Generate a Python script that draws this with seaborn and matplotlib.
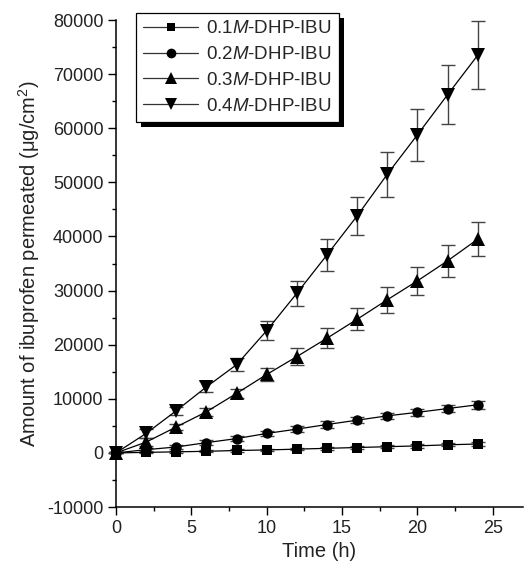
import numpy as np
import pandas as pd
import matplotlib
matplotlib.use("Agg")
import matplotlib.pyplot as plt
import seaborn as sns
from matplotlib.lines import Line2D
from matplotlib.patches import Rectangle

# ---- data ----
time_h = [0, 2, 4, 6, 8, 10, 12, 14, 16, 18, 20, 22, 24]
labels = ["0.1$\\mathit{M}$-DHP-IBU", "0.2$\\mathit{M}$-DHP-IBU",
          "0.3$\\mathit{M}$-DHP-IBU", "0.4$\\mathit{M}$-DHP-IBU"]
m01 = [0, 100, 200, 300, 450, 550, 700, 850, 1000, 1150, 1300, 1500, 1650]
e01 = [100, 150, 150, 200, 200, 200, 250, 250, 250, 300, 300, 300, 300]
m02 = [0, 600, 1100, 1900, 2650, 3600, 4400, 5250, 6050, 6850, 7500, 8200, 8900]
e02 = [100, 300, 400, 400, 500, 500, 500, 600, 600, 600, 600, 700, 700]
m03 = [0, 2000, 4800, 7600, 11000, 14500, 17800, 21200, 24700, 28300, 31800, 35500, 39500]
e03 = [100, 700, 600, 700, 900, 1200, 1500, 1800, 2000, 2400, 2600, 3000, 3200]
m04 = [0, 3600, 7800, 12200, 16300, 22600, 29500, 36600, 43800, 51500, 58800, 66200, 73500]
e04 = [100, 800, 700, 1000, 1200, 1700, 2300, 3000, 3500, 4200, 4800, 5500, 6300]
means = [m01, m02, m03, m04]
errs = [e01, e02, e03, e04]
markers = ["s", "o", "^", "v"]
msizes = [6.5, 7.5, 9.5, 9.5]

sns.set_style("ticks")
plt.rcParams['font.family'] = ['Liberation Sans', 'DejaVu Sans']
plt.rcParams['mathtext.fontset'] = 'custom'
plt.rcParams['mathtext.rm'] = 'Liberation Sans'
plt.rcParams['mathtext.it'] = 'Liberation Sans:italic'
plt.rcParams['axes.unicode_minus'] = False

df = pd.DataFrame({
    "time": np.tile(time_h, 4),
    "amount": np.concatenate(means),
    "series": np.repeat(labels, len(time_h)),
})

fig = plt.figure(figsize=(5.32, 5.64), dpi=100)
ax = fig.add_axes([0.218, 0.101, 0.765, 0.8635])

sns.lineplot(data=df, x="time", y="amount", hue="series", style="series",
             markers=dict(zip(labels, markers)), dashes=False,
             palette=["black"] * 4, linewidth=0.9, markeredgewidth=0,
             ax=ax, legend=False, zorder=3, clip_on=False)
for ln, ms in zip(ax.get_lines()[-4:], msizes):
    ln.set_markersize(ms)

for i in range(4):
    ax.errorbar(time_h, means[i], yerr=errs[i], fmt="none", ecolor="#444444",
                elinewidth=1.0, capsize=5, capthick=1.0, zorder=2, clip_on=False)

ax.set_xlim(0, 27)
ax.set_ylim(-10000, 80000)
ax.set_xticks([0, 5, 10, 15, 20, 25])
ax.set_xticks(np.arange(0, 27, 2.5), minor=True)
ax.set_yticks(np.arange(-10000, 80001, 10000))
ax.set_yticks(np.arange(-10000, 80001, 5000), minor=True)
ax.tick_params(axis="both", which="major", direction="out", length=5.5, width=1.0,
               labelsize=13, color="black", labelcolor="#222222")
ax.tick_params(axis="both", which="minor", direction="out", length=3, width=1.0, color="black")
for s in ["top", "right"]:
    ax.spines[s].set_visible(False)
for s in ["left", "bottom"]:
    ax.spines[s].set_linewidth(1.1)
    ax.spines[s].set_color("black")

ax.set_xlabel("Time (h)", fontsize=14.5, color="#222222", labelpad=4)
ax.set_ylabel("Amount of ibuprofen permeated (μg/cm$^{2}$)", fontsize=14.5,
              color="#222222", labelpad=4)

handles = [Line2D([0], [0], color="#333333", lw=0.9, marker=m, markersize=s,
                  markerfacecolor="black", markeredgewidth=0)
           for m, s in zip(markers, [6, 7, 8.5, 8.5])]
leg = ax.legend(handles, labels, loc="upper left", bbox_to_anchor=(0.049, 1.015),
                borderaxespad=0,
                frameon=True, fancybox=False, framealpha=1, edgecolor="black",
                fontsize=13.5, handlelength=2.9, handletextpad=0.45,
                labelspacing=0.46, borderpad=0.4)
leg.get_frame().set_linewidth(0.9)
leg.set_zorder(10)

fig.canvas.draw()
bb = leg.get_window_extent()
off = 5
inv = fig.transFigure.inverted()
(x0, y0) = inv.transform((bb.x0 + off, bb.y0 - off))
(x1, y1) = inv.transform((bb.x1 + off, bb.y1 - off))
shadow = Rectangle((x0, y0), x1 - x0, y1 - y0, transform=fig.transFigure,
                   facecolor="black", edgecolor="none", zorder=9, clip_on=False)
ax.add_artist(shadow)

fig.savefig("out.png", dpi=100)
